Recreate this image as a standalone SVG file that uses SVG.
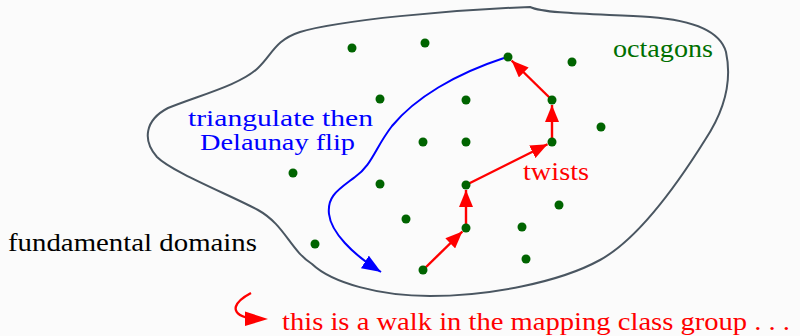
<svg xmlns="http://www.w3.org/2000/svg" width="800" height="336" viewBox="0 0 800 336">
<style>
text{font-size:26px}
.sm{font-size:24px}
.dot{fill:#006400}
.red{stroke:#ff0000;stroke-width:2.4;fill:none}
</style>
<defs>
<marker id="ar" markerUnits="userSpaceOnUse" markerWidth="18" markerHeight="14" refX="17" refY="7" orient="auto" viewBox="0 0 18 14">
<path d="M0,0 L17,7 L0,14 z" fill="#ff0000"/>
</marker>
<marker id="ab" markerUnits="userSpaceOnUse" markerWidth="20" markerHeight="15" refX="19" refY="7.5" orient="auto" viewBox="0 0 20 15">
<path d="M0,0 L19,7.5 L0,15 z" fill="#0000ff"/>
</marker>
</defs>
<rect width="800" height="336" fill="#fbfbfb"/>
<g id="outline">
<path d="M530,7 C450,10 340,20 300,32 C275,40 272,55 258,68 C240,85 200,95 168,108 C145,120 142,140 157,157 C172,172 230,195 258,210 C285,225 290,250 312,264 C332,283 380,296 430,296 C490,296 560,282 600,260 C640,238 680,180 705,140 C725,110 732,80 726,52 C720,30 690,20 650,17 C600,14 545,14 530,7 Z" fill="none" stroke="#4a5661" stroke-width="2"/>
</g>
<g id="connectors">
<path d="M504,58 C455,74 415,98 392,126 C375,148 372,165 355,177 C338,190 327,196 329,214 C331,232 352,254 381,272" fill="none" stroke="#0000ff" stroke-width="2" marker-end="url(#ab)"/>
<line class="red" x1="423" y1="270" x2="462.4" y2="231.5" marker-end="url(#ar)"/>
<line class="red" x1="466" y1="228" x2="466" y2="190" marker-end="url(#ar)"/>
<line class="red" x1="466" y1="185" x2="547.5" y2="144.2" marker-end="url(#ar)"/>
<line class="red" x1="552" y1="142" x2="552" y2="105" marker-end="url(#ar)"/>
<line class="red" x1="552" y1="100" x2="511.6" y2="60.5" marker-end="url(#ar)"/>
<path class="red" d="M251,293 C236,301 226,313 250,318.5"/>
<path d="M245,311.5 L268,319 L245,326 z" fill="#ff0000"/>
</g>
<g id="dots">
<circle class="dot" cx="352" cy="48" r="4.5"/>
<circle class="dot" cx="425" cy="43" r="4.5"/>
<circle class="dot" cx="508" cy="57" r="4.5"/>
<circle class="dot" cx="572" cy="62" r="4.5"/>
<circle class="dot" cx="380" cy="99" r="4.5"/>
<circle class="dot" cx="466" cy="100" r="4.5"/>
<circle class="dot" cx="552" cy="100" r="4.5"/>
<circle class="dot" cx="601" cy="127" r="4.5"/>
<circle class="dot" cx="423" cy="142" r="4.5"/>
<circle class="dot" cx="466" cy="142" r="4.5"/>
<circle class="dot" cx="552" cy="142" r="4.5"/>
<circle class="dot" cx="293" cy="173" r="4.5"/>
<circle class="dot" cx="380" cy="184" r="4.5"/>
<circle class="dot" cx="466" cy="185" r="4.5"/>
<circle class="dot" cx="559" cy="205" r="4.5"/>
<circle class="dot" cx="406" cy="219" r="4.5"/>
<circle class="dot" cx="466" cy="228" r="4.5"/>
<circle class="dot" cx="522" cy="227" r="4.5"/>
<circle class="dot" cx="315" cy="244" r="4.5"/>
<circle class="dot" cx="526" cy="259" r="4.5"/>
<circle class="dot" cx="423" cy="270" r="4.5"/>
</g>
<g id="labels" font-family="Liberation Serif, serif">
<text x="613" y="57" fill="#006f00" textLength="100" lengthAdjust="spacingAndGlyphs">octagons</text>
<text class="sm" x="188" y="126" fill="#0000ff" textLength="185" lengthAdjust="spacingAndGlyphs">triangulate then</text>
<text class="sm" x="200" y="150" fill="#0000ff" textLength="155" lengthAdjust="spacingAndGlyphs">Delaunay flip</text>
<text x="523" y="180" fill="#ff0000" textLength="66" lengthAdjust="spacingAndGlyphs">twists</text>
<text x="8" y="251" fill="#000000" textLength="249" lengthAdjust="spacingAndGlyphs">fundamental domains</text>
<text x="282" y="330" fill="#ff0000" textLength="508" lengthAdjust="spacingAndGlyphs">this is a walk in the mapping class group . . .</text>
</g>
</svg>
